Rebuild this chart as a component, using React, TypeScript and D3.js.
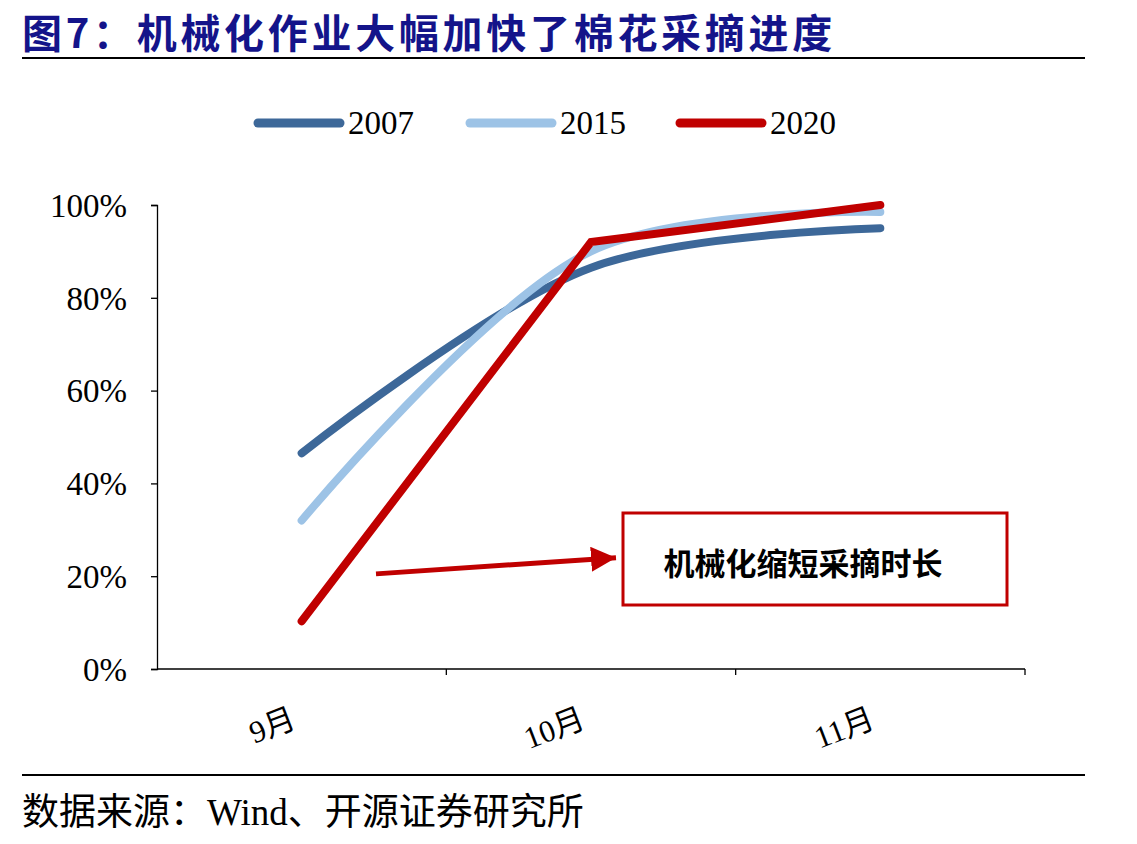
import React, { useEffect, useRef } from 'react';
import * as d3 from 'd3';

// harvest progress by month, share of crop picked
const months = ['9月', '10月', '11月'];
const series2007 = [0.465, 0.865, 0.95];
const series2015 = [0.32, 0.9, 0.985];
const series2020 = [0.103, 0.92, 1.0];
const yTicks = [0, 0.2, 0.4, 0.6, 0.8, 1.0];

const seriesNames = ['2007', '2015', '2020'];
const seriesColors = ['#3d6899', '#9dc3e6', '#c00000'];

const serif = '"Liberation Serif", "Noto Sans CJK SC", serif';
const cjk = '"Noto Sans CJK SC", sans-serif';

function App() {
  const svgRef = useRef<SVGSVGElement>(null);

  useEffect(() => {
    const width = 1137;
    const height = 844;
    const plot = { left: 157, right: 1025, top: 205, bottom: 669 };

    d3.select(svgRef.current).selectAll('*').remove();
    const svg = d3.select(svgRef.current)
      .attr('width', width)
      .attr('height', height);

    svg.append('rect').attr('width', width).attr('height', height).attr('fill', '#fff');

    // title and rules
    svg.append('text')
      .attr('x', 22)
      .attr('y', 48)
      .attr('font-family', cjk)
      .attr('font-weight', 700)
      .attr('font-size', 40)
      .attr('letter-spacing', 3.7)
      .attr('fill', '#14148a')
      .text('图7：机械化作业大幅加快了棉花采摘进度');

    svg.append('line')
      .attr('x1', 22).attr('x2', 1085)
      .attr('y1', 58).attr('y2', 58)
      .attr('stroke', '#000').attr('stroke-width', 2);

    svg.append('line')
      .attr('x1', 22).attr('x2', 1085)
      .attr('y1', 775).attr('y2', 775)
      .attr('stroke', '#000').attr('stroke-width', 2);

    svg.append('text')
      .attr('x', 22)
      .attr('y', 825)
      .attr('font-family', serif)
      .attr('font-size', 37)
      .attr('fill', '#000')
      .text('数据来源：Wind、开源证券研究所');

    const x = d3.scaleBand<string>()
      .domain(months)
      .range([plot.left, plot.right])
      .padding(0);

    const y = d3.scaleLinear()
      .domain([0, 1])
      .range([plot.bottom, plot.top]);

    const cx = (m: string) => (x(m) as number) + x.bandwidth() / 2;

    // y axis
    const yAxis = svg.append('g')
      .attr('transform', `translate(${plot.left},0)`)
      .call(d3.axisLeft(y).tickValues(yTicks).tickSize(6).tickPadding(24).tickFormat(d3.format('.0%')));
    yAxis.select('.domain').attr('stroke', '#000').attr('stroke-width', 1.3);
    yAxis.selectAll('.tick line').attr('stroke', '#000').attr('stroke-width', 1.3);
    yAxis.selectAll('.tick text')
      .attr('font-family', serif)
      .attr('font-size', 33)
      .attr('fill', '#000')
      .attr('dy', '0.34em');

    // x axis with ticks on category boundaries
    svg.append('line')
      .attr('x1', plot.left).attr('x2', plot.right)
      .attr('y1', plot.bottom).attr('y2', plot.bottom)
      .attr('stroke', '#000').attr('stroke-width', 1.3);

    const boundaries = months.map(m => (x(m) as number) + x.bandwidth());
    svg.append('g')
      .selectAll('line')
      .data(boundaries)
      .join('line')
      .attr('x1', d => d).attr('x2', d => d)
      .attr('y1', plot.bottom).attr('y2', plot.bottom + 6)
      .attr('stroke', '#000').attr('stroke-width', 1.3);

    svg.append('g')
      .selectAll('text')
      .data(months)
      .join('text')
      .attr('transform', d => `translate(${cx(d) - 4},${plot.bottom + 58}) rotate(-21)`)
      .attr('text-anchor', 'end')
      .attr('font-family', serif)
      .attr('font-size', 31)
      .attr('fill', '#000')
      .text(d => d);

    // series lines
    const values = [series2007, series2015, series2020];
    const smoothLine = d3.line<number>()
      .x((_, i) => cx(months[i]))
      .y(d => y(d))
      .curve(d3.curveCatmullRom.alpha(0.5));
    const straightLine = d3.line<number>()
      .x((_, i) => cx(months[i]))
      .y(d => y(d));

    values.forEach((vals, i) => {
      svg.append('path')
        .datum(vals)
        .attr('d', i === 2 ? straightLine : smoothLine)
        .attr('fill', 'none')
        .attr('stroke', seriesColors[i])
        .attr('stroke-width', 8)
        .attr('stroke-linecap', 'round')
        .attr('stroke-linejoin', 'miter');
    });

    // legend
    const legendX = [258, 470, 680];
    const legend = svg.append('g');
    seriesNames.forEach((name, i) => {
      legend.append('line')
        .attr('x1', legendX[i]).attr('x2', legendX[i] + 82)
        .attr('y1', 123).attr('y2', 123)
        .attr('stroke', seriesColors[i])
        .attr('stroke-width', 9)
        .attr('stroke-linecap', 'round');
      legend.append('text')
        .attr('x', legendX[i] + 90)
        .attr('y', 134)
        .attr('font-family', serif)
        .attr('font-size', 33)
        .attr('fill', '#000')
        .text(name);
    });

    // annotation: arrow into callout box
    svg.append('defs')
      .append('marker')
      .attr('id', 'arrowHead')
      .attr('viewBox', '0 0 10 10')
      .attr('refX', 10)
      .attr('refY', 5)
      .attr('markerWidth', 5)
      .attr('markerHeight', 5)
      .attr('markerUnits', 'strokeWidth')
      .attr('orient', 'auto')
      .append('path')
      .attr('d', 'M0,0 L10,5 L0,10 Z')
      .attr('fill', '#c00000');

    svg.append('line')
      .attr('x1', 376).attr('y1', y(0.205))
      .attr('x2', 616).attr('y2', y(0.24))
      .attr('stroke', '#c00000')
      .attr('stroke-width', 5)
      .attr('marker-end', 'url(#arrowHead)');

    svg.append('rect')
      .attr('x', 623).attr('y', 513)
      .attr('width', 384).attr('height', 92)
      .attr('fill', '#fff')
      .attr('stroke', '#c00000')
      .attr('stroke-width', 3);

    svg.append('text')
      .attr('x', 803)
      .attr('y', 575)
      .attr('text-anchor', 'middle')
      .attr('font-family', cjk)
      .attr('font-weight', 700)
      .attr('font-size', 31)
      .attr('fill', '#000')
      .text('机械化缩短采摘时长');
  }, []);

  return <svg ref={svgRef} style={{ position: 'absolute', left: 0, top: 0 }}></svg>;
}

export default App;
